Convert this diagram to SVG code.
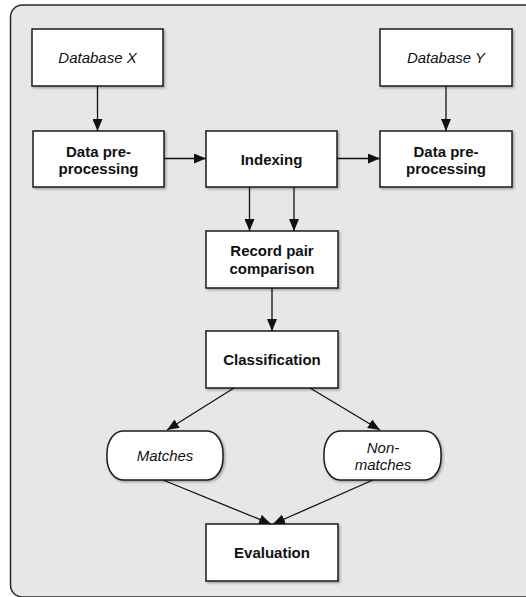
<svg xmlns="http://www.w3.org/2000/svg" width="526" height="597" viewBox="0 0 526 597">
<style>
.box{fill:#fff;stroke:#1a1a1a;stroke-width:1.5;filter:url(#sh)}
.bt{font-family:"Liberation Sans",Arial,sans-serif;font-size:15px;font-weight:bold;fill:#111;text-anchor:middle}
.it{font-family:"Liberation Sans",Arial,sans-serif;font-size:15px;font-style:italic;fill:#111;text-anchor:middle}
.c{stroke:#111;stroke-width:1.3;fill:none;marker-end:url(#ah)}
</style>
<defs>
<marker id="ah" viewBox="0 0 12 10" refX="12" refY="5" markerWidth="12" markerHeight="10" markerUnits="userSpaceOnUse" orient="auto">
<path d="M0,0 L12,5 L0,10 Z" fill="#111"/>
</marker>
<filter id="sh" x="-10%" y="-10%" width="125%" height="130%">
<feDropShadow dx="1.5" dy="1.5" stdDeviation="1.2" flood-color="#000" flood-opacity="0.3"/>
</filter>
</defs>
<rect width="526" height="597" fill="#fff"/>
<rect x="10.5" y="5" width="540" height="592" rx="12" fill="#e8e7e8" stroke="#2a2a2a" stroke-width="1.5"/>

<g id="dbx"><rect class="box" x="32" y="29" width="131" height="57"/><text class="it" x="97.5" y="63">Database X</text></g>
<g id="dbY"><rect class="box" x="380" y="29" width="132" height="57"/><text class="it" x="446" y="63">Database Y</text></g>
<g id="dppx"><rect class="box" x="33" y="131" width="131" height="56"/><text class="bt" x="98.5" y="157">Data pre-</text><text class="bt" x="98.5" y="174">processing</text></g>
<g id="idx"><rect class="box" x="206" y="131" width="131" height="56"/><text class="bt" x="271.5" y="165">Indexing</text></g>
<g id="dppy"><rect class="box" x="380" y="131" width="132" height="56"/><text class="bt" x="446" y="157">Data pre-</text><text class="bt" x="446" y="174">processing</text></g>
<g id="rpc"><rect class="box" x="206" y="231" width="132" height="57"/><text class="bt" x="272" y="256">Record pair</text><text class="bt" x="272" y="274">comparison</text></g>
<g id="cls"><rect class="box" x="206" y="331" width="132" height="57"/><text class="bt" x="272" y="365">Classification</text></g>
<g id="mat"><rect class="box" x="107" y="431" width="116" height="49" rx="16" ry="22"/><text class="it" x="165" y="461">Matches</text></g>
<g id="non"><rect class="box" x="324" y="431" width="117" height="49" rx="16" ry="22"/><text class="it" x="383" y="453">Non-</text><text class="it" x="383" y="470">matches</text></g>
<g id="eva"><rect class="box" x="206" y="524" width="132" height="57"/><text class="bt" x="272" y="558">Evaluation</text></g>

<g id="connectors">
<path class="c" d="M97.5,86 L97.5,131"/>
<path class="c" d="M446,86 L446,131"/>
<path class="c" d="M164,158.5 L206,158.5"/>
<path class="c" d="M337,158.5 L380,158.5"/>
<path class="c" d="M249.5,187 L249.5,231"/>
<path class="c" d="M294,187 L294,231"/>
<path class="c" d="M272,288 L272,331"/>
<path class="c" d="M234,388 L167,430"/>
<path class="c" d="M310,388 L380,430"/>
<path class="c" d="M163,480 L271,524"/>
<path class="c" d="M373,480 L273,524"/>
</g>
</svg>
